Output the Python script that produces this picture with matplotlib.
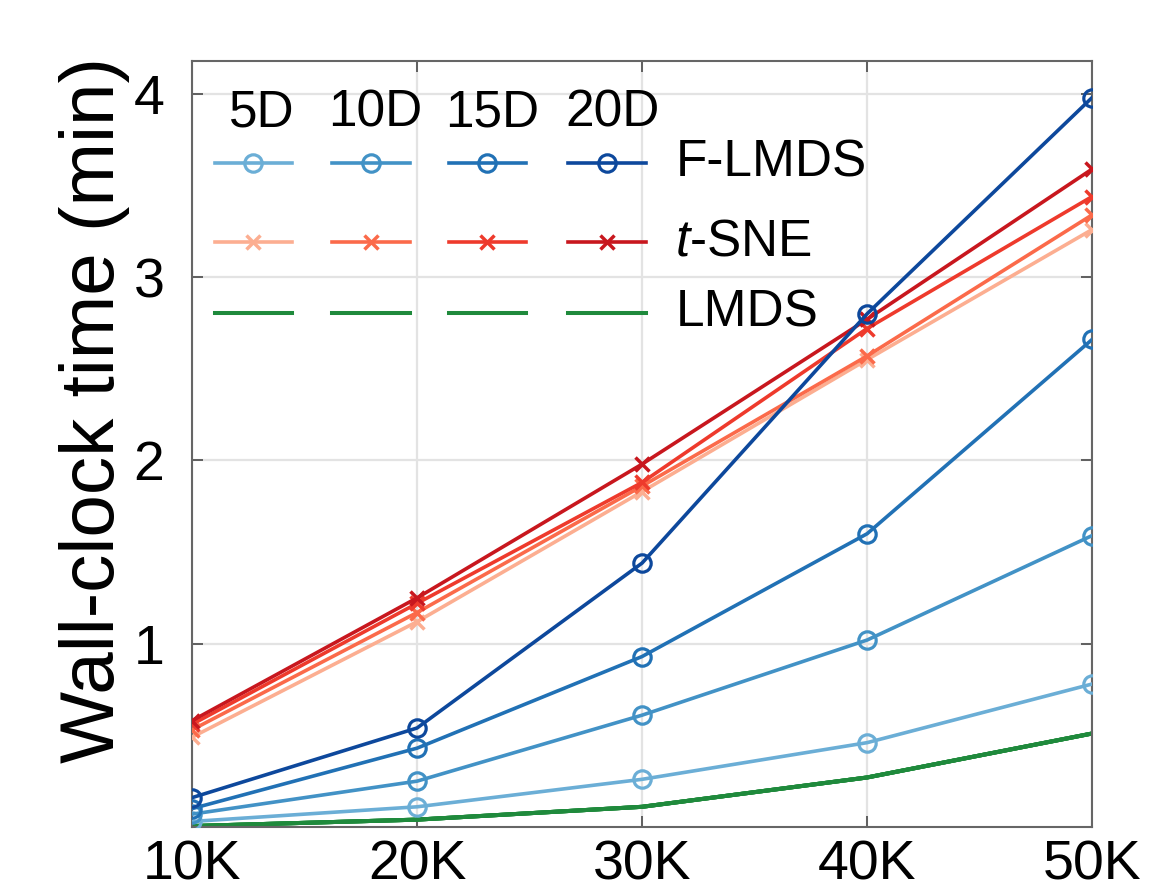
import matplotlib.pyplot as plt
import numpy as np

plt.rcParams['font.family'] = ['Liberation Sans', 'DejaVu Sans']
plt.rcParams['mathtext.fontset'] = 'custom'
plt.rcParams['mathtext.it'] = 'Liberation Sans:italic'
plt.rcParams['mathtext.rm'] = 'Liberation Sans'

# data (wall-clock minutes)
n_points = [10, 20, 30, 40, 50]          # thousands
xtick_labels = ['10K', '20K', '30K', '40K', '50K']
dims = ['5D', '10D', '15D', '20D']

flmds = {
    '5D':  [0.03, 0.11, 0.26, 0.46, 0.78],
    '10D': [0.07, 0.25, 0.61, 1.02, 1.59],
    '15D': [0.10, 0.43, 0.93, 1.60, 2.66],
    '20D': [0.16, 0.54, 1.44, 2.80, 3.98],
}
tsne = {
    '5D':  [0.49, 1.12, 1.83, 2.55, 3.26],
    '10D': [0.53, 1.17, 1.86, 2.57, 3.34],
    '15D': [0.56, 1.22, 1.88, 2.72, 3.44],
    '20D': [0.58, 1.25, 1.98, 2.77, 3.59],
}
lmds = {
    '5D':  [0.005, 0.04, 0.11, 0.27, 0.51],
    '10D': [0.005, 0.04, 0.11, 0.27, 0.51],
    '15D': [0.005, 0.04, 0.11, 0.27, 0.51],
    '20D': [0.005, 0.04, 0.11, 0.27, 0.51],
}

blues = ['#6baed6', '#4292c6', '#2171b5', '#0d489c']
reds = ['#fcae91', '#fb6a4a', '#ee3a2c', '#c8171e']
green = '#1f8a3c'

fig = plt.figure(figsize=(11.52, 8.82), dpi=100)
ax = fig.add_axes([0.1667, 0.0624, 0.7813, 0.8685])

lw = 2.6
ms_o, mew_o = 12.5, 2.3
ms_x, mew_x = 10, 2.5
for i, d in enumerate(dims):
    ax.plot(n_points, lmds[d], color=green, lw=lw + 0.3, zorder=2)
for i, d in enumerate(dims):
    ax.plot(n_points, tsne[d], color=reds[i], lw=lw, marker='x',
            ms=ms_x, mew=mew_x, zorder=3)
for i, d in enumerate(dims):
    ax.plot(n_points, flmds[d], color=blues[i], lw=lw, marker='o',
            ms=ms_o, mew=mew_o, mfc='none', zorder=4)

ax.set_xlim(10, 50)
ax.set_ylim(0, 4.18)
ax.set_xticks(n_points)
ax.set_xticklabels(xtick_labels)
ax.set_yticks([1, 2, 3, 4])
ax.tick_params(direction='in', length=8, width=1.3, labelsize=40,
               top=True, right=True, colors='#555555', labelcolor='black')
ax.tick_params(axis='x', pad=9)
ax.tick_params(axis='y', pad=20)
ax.grid(True, color='#e3e3e3', lw=1.6)
ax.set_axisbelow(True)
for s in ax.spines.values():
    s.set_color('#666666')
    s.set_linewidth(1.5)

ax.set_ylabel('Wall-clock time (min)', fontsize=55)
ax.yaxis.set_label_coords(-0.069, 0.544)

# hand-made legend grid: columns = dimensions, rows = methods
col_x = [0.068, 0.199, 0.328, 0.461]
head_x = [0.078, 0.204, 0.334, 0.467]
row_y = [0.867, 0.764, 0.671]
half = 0.043
for i, d in enumerate(dims):
    ax.text(head_x[i], 0.914, d, transform=ax.transAxes, fontsize=37,
            ha='center', va='baseline')
    ax.plot([col_x[i] - half, col_x[i] + half], [row_y[0]] * 2,
            color=blues[i], lw=lw, transform=ax.transAxes, clip_on=False)
    ax.plot([col_x[i]], [row_y[0]], color=blues[i], marker='o', ms=ms_o,
            mew=mew_o, mfc='none', transform=ax.transAxes, clip_on=False)
    ax.plot([col_x[i] - half, col_x[i] + half], [row_y[1]] * 2,
            color=reds[i], lw=lw, transform=ax.transAxes, clip_on=False)
    ax.plot([col_x[i]], [row_y[1]], color=reds[i], marker='x', ms=ms_x,
            mew=mew_x, transform=ax.transAxes, clip_on=False)
    ax.plot([col_x[i] - half, col_x[i] + half], [row_y[2]] * 2,
            color=green, lw=lw + 0.3, transform=ax.transAxes, clip_on=False)

for y, name in zip(row_y, ['F-LMDS', r'$t$-SNE', 'LMDS']):
    ax.text(0.537, y, name, transform=ax.transAxes, fontsize=37,
            ha='left', va='center')

fig.savefig('out.png', dpi=100)
